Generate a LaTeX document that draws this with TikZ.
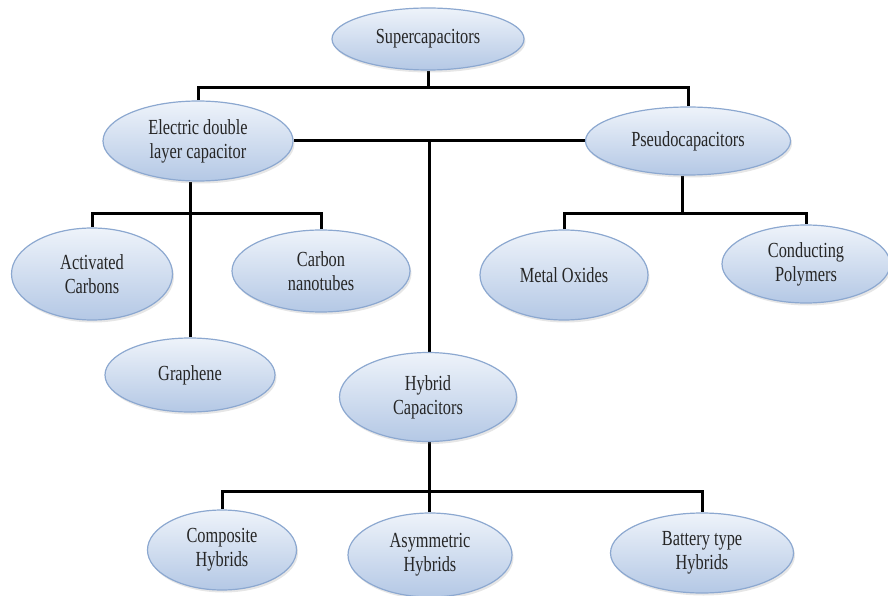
\documentclass[tikz,border=0pt]{standalone}
\usepackage{fontspec}
\setmainfont{Liberation Serif}[FakeStretch=0.76]
\usepackage{tikz}
\usetikzlibrary{shapes,positioning,backgrounds,shadows}
\definecolor{capTop}{RGB}{238,243,250}
\definecolor{capBot}{RGB}{180,200,229}
\definecolor{capLine}{RGB}{140,168,208}
\tikzstyle{capell} = [ellipse, draw=capLine, line width=1.2pt, top color=capTop, bottom color=capBot, text=black!85, align=center, inner sep=0pt, font=\fontsize{21.5}{24}\selectfont, drop shadow={opacity=0.2, shadow xshift=1.5pt, shadow yshift=-2.5pt}]
\tikzstyle{tline} = [draw, line width=3pt, black]

\begin{document}
\begin{tikzpicture}[x=1pt, y=-1pt]

\useasboundingbox (0,0) rectangle (888,596);

% capacitors =============================

% top
\node[capell, minimum width=192pt, minimum height=62pt] (super) at (428,39) {Supercapacitors};

% second level
\node[capell, minimum width=190pt, minimum height=80pt] (edlc) at (198,141) {Electric double\\layer capacitor};
\node[capell, minimum width=205pt, minimum height=68pt] (pseudo) at (688,141) {Pseudocapacitors};
\node[capell, minimum width=177pt, minimum height=89pt] (hybrid) at (428,397) {Hybrid\\Capacitors};

% edlc types
\node[capell, minimum width=161pt, minimum height=92pt] (actc) at (92,274) {Activated\\Carbons};
\node[capell, minimum width=178pt, minimum height=82pt] (cnt) at (321,271) {Carbon\\nanotubes};
\node[capell, minimum width=170pt, minimum height=74pt] (graphene) at (190,375) {Graphene};

% pseudo types
\node[capell, minimum width=168pt, minimum height=90pt] (metal) at (564,275) {Metal Oxides};
\node[capell, minimum width=168pt, minimum height=78pt] (cond) at (806,264) {Conducting\\Polymers};

% hybrid types
\node[capell, minimum width=149pt, minimum height=80pt] (comp) at (222,550) {Composite\\Hybrids};
\node[capell, minimum width=164pt, minimum height=84pt] (asym) at (430,555) {Asymmetric\\Hybrids};
\node[capell, minimum width=183pt, minimum height=80pt] (batt) at (702,553) {Battery type\\Hybrids};

% junctions
\coordinate (top) at (428,88);
\coordinate (mid) at (429,141);
\coordinate (ebar) at (190,213);
\coordinate (pbar) at (682,213);
\coordinate (hbar) at (429,491);

% edges =============================
\begin{scope}[on background layer]
\path[tline] (super) -- (top);
\path[tline] (edlc) |- (top) -| (pseudo);

\path[tline] (edlc) -- (pseudo);
\path[tline] (mid) -- (mid |- hybrid.north);

\path[tline] (graphene) -- (graphene |- edlc.south);
\path[tline] (actc) |- (ebar) -| (cnt);

\path[tline] (pbar |- pseudo.south) -- (pbar);
\path[tline] (metal) |- (pbar) -| (cond);

\path[tline] (hbar |- hybrid.south) -- (hbar |- asym.north);
\path[tline] (comp) |- (hbar) -| (batt);
\end{scope}

\end{tikzpicture}
\end{document}
